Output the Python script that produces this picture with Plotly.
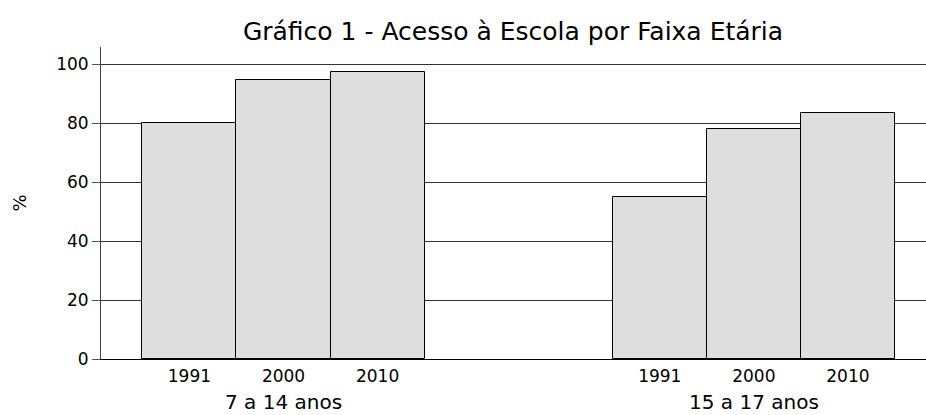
import plotly.graph_objects as go

groups = ["7 a 14 anos", "15 a 17 anos"]
years = ["1991", "2000", "2010"]
values_7_14 = [79.9, 94.6, 97.2]
values_15_17 = [55.0, 77.9, 83.3]
y_ticks = [0, 20, 40, 60, 80, 100]

series = [values_7_14, values_15_17]
group_step = 5  # bar slots from one group start to the next

FONT = "DejaVu Sans"

xs, ys, labels = [], [], []
for gi, vals in enumerate(series):
    for yi, v in enumerate(vals):
        xs.append(gi * group_step + yi)
        ys.append(v)
        labels.append(years[yi])

fig = go.Figure()
fig.add_trace(go.Bar(
    x=xs, y=ys, width=1.0,
    marker=dict(color="#dedede", line=dict(color="#000000", width=1)),
    hoverinfo="x+y", showlegend=False,
))

annotations = []
for gi, g in enumerate(groups):
    annotations.append(dict(
        x=gi * group_step + 1, y=-0.138, xref="x", yref="paper",
        text=g, showarrow=False, yanchor="middle", xanchor="center",
        font=dict(family=FONT, size=20, color="#000"),
    ))

fig.update_layout(
    width=926, height=415,
    margin=dict(l=101, r=0, t=47, b=56),
    paper_bgcolor="white", plot_bgcolor="white",
    title=dict(text="Gráfico 1 - Acesso à Escola por Faixa Etária",
               x=0.554, xanchor="center", y=0.925, yanchor="middle",
               font=dict(family=FONT, size=25, color="#000")),
    font=dict(family=FONT, color="#000"),
    annotations=annotations,
    bargap=0,
)
fig.update_xaxes(
    range=[-0.94, 7.83],
    tickvals=xs, ticktext=labels,
    tickfont=dict(family=FONT, size=17, color="#000"),
    showline=True, linecolor="#000", linewidth=1,
    showgrid=False, zeroline=False, ticks="",
    ticklabelstandoff=2,
)
fig.update_yaxes(
    range=[0, 105.8],
    tickvals=y_ticks,
    tickfont=dict(family=FONT, size=17, color="#000"),
    showline=True, linecolor="#444", linewidth=1,
    showgrid=True, gridcolor="#333", gridwidth=1,
    zeroline=False,
    ticks="outside", ticklen=8, tickcolor="#555",
    title=dict(text="%", font=dict(family=FONT, size=18, color="#000"), standoff=24),
)

fig.write_html(
    "out.html",
    config={"displayModeBar": False},
    post_script="document.body.style.margin='0px';document.body.style.overflow='hidden';",
)
